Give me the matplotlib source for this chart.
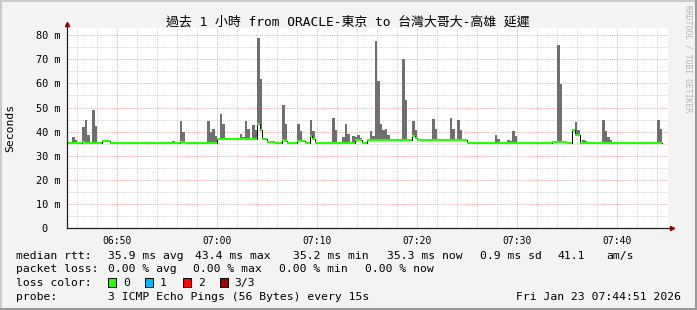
import matplotlib
matplotlib.use('Agg')
import numpy as np
import matplotlib.pyplot as plt
from matplotlib.lines import Line2D
from matplotlib.patches import Rectangle

# time axis: 15 s steps counted from 06:45
n_steps = 238
step_min = 0.25

# median rtt (ms): (first step, value) until the next change
median_changes = [(0, 35.4), (6, 35.8), (7, 35.4), (14, 36.1), (17, 35.4),
                  (45, 35.8), (47, 35.4), (60, 36.8), (76, 43.2), (77, 40.7),
                  (78, 36.8), (80, 35.8), (83, 35.4), (86, 36.5), (87, 36.0),
                  (88, 35.4), (92, 36.3), (95, 35.4), (97, 38.0), (98, 36.8),
                  (99, 35.4), (115, 36.4), (118, 35.4), (120, 36.7), (138, 38.2),
                  (139, 37.2), (140, 36.7), (160, 35.4), (194, 35.8), (200, 35.4),
                  (202, 40.7), (203, 38.6), (205, 35.4)]

# smoke: top of the ping spread (ms) per step
smoke_steps = [2, 3, 6, 7, 8, 10, 11, 42, 45, 46, 56, 57, 58, 59, 61, 62,
               69, 70, 71, 72, 74, 75, 76, 77, 86, 87, 92, 93, 97, 98, 106, 107,
               110, 111, 112, 114, 115, 116, 117, 121, 122, 123, 124, 125, 126, 127,
               128, 134, 135, 138, 139, 146, 147, 153, 154, 156, 157, 171, 172, 176,
               177, 178, 179, 196, 197, 202, 203, 204, 206, 207, 214, 215, 216, 217,
               236, 237]
smoke_top = [37.8, 36.5, 41.9, 44.8, 38.6, 49.0, 42.3, 36.1, 44.4, 39.8, 44.4, 39.8,
             41.1, 38.2, 47.3, 43.2, 39.0, 37.8, 44.4, 41.1, 42.7, 40.7, 78.8, 61.8,
             51.0, 43.2, 43.2, 40.2, 44.8, 40.2, 45.6, 40.7, 37.8, 43.2, 39.0, 38.2,
             37.8, 38.6, 37.3, 40.2, 38.2, 77.6, 61.0, 43.2, 40.7, 41.1, 38.6, 70.1,
             53.1, 44.4, 40.7, 45.2, 41.1, 45.6, 41.1, 44.8, 40.7, 38.6, 36.9, 36.5,
             36.1, 40.2, 38.2, 75.9, 59.8, 41.1, 44.0, 40.7, 36.5, 36.1, 44.8, 40.2,
             37.8, 36.5, 44.8, 41.1]

x_ticks = [5, 15, 25, 35, 45, 55]
x_labels = ['06:50', '07:00', '07:10', '07:20', '07:30', '07:40']
y_ticks = [0, 10, 20, 30, 40, 50, 60, 70, 80]
y_labels = ['0  ', '10 m', '20 m', '30 m', '40 m', '50 m', '60 m', '70 m', '80 m']

title = '過去 1 小時 from ORACLE-東京 to 台灣大哥大-高雄 延遲'

W, H = 697, 310
MONO = 'DejaVu Sans Mono'
CJK = [MONO, 'Noto Sans CJK TC']


def fx(px):
    return px / W


def fy(py):
    return 1 - py / H


# build step series
med = np.empty(n_steps)
for i, (k, v) in enumerate(median_changes):
    end = median_changes[i + 1][0] if i + 1 < len(median_changes) else n_steps
    med[k:end] = v
t = np.arange(n_steps) * step_min
sk = np.array(smoke_steps)
st = np.array(smoke_top)

fig = plt.figure(figsize=(W / 100, H / 100), dpi=100, facecolor='#f3f3f3')
ax = fig.add_axes([fx(67), fy(228), fx(668) - fx(67), fy(28) - fy(228)])
ax.set_facecolor('white')

# smoke bars
ax.bar(sk * step_min, st - med[sk], bottom=med[sk], width=step_min, align='edge',
       color='#6f6f6f', lw=0, zorder=2)

# median line: black connectors, green level segments
ax.step(np.append(t, t[-1] + step_min), np.append(med, med[-1]), where='post',
        color='black', lw=0.7, zorder=3)
ax.hlines(med, t, t + step_min, color='#26ff00', lw=1.5, zorder=4)

ax.set_xlim(0, 60.05)
ax.set_ylim(0, 83)

ax.set_xticks(x_ticks)
ax.set_xticklabels(x_labels, family=MONO, fontsize=7)
ax.set_xticks(np.arange(1, 60, 2), minor=True)
ax.set_yticks(y_ticks)
ax.set_yticklabels(y_labels, family=MONO, fontsize=7.4)
ax.set_yticks(np.arange(5, 83, 10), minor=True)
ax.tick_params(axis='both', which='both', length=0)
ax.tick_params(axis='x', pad=5.5)
ax.tick_params(axis='y', pad=5)

ax.set_axisbelow(True)
ax.grid(which='minor', color='#cfcfcf', ls=(0, (1, 1)), lw=0.7)
ax.grid(which='major', color='#f2a8a8', ls=(0, (1, 1)), lw=0.7)
for s in ax.spines.values():
    s.set_visible(False)

# axis lines with arrows
ax.plot([0, 1.006], [0, 0], transform=ax.transAxes, color='#202020', lw=0.9,
        clip_on=False, zorder=5)
ax.plot([0, 0], [0, 1.015], transform=ax.transAxes, color='#202020', lw=0.9,
        clip_on=False, zorder=5)
ax.plot([1.006], [0], transform=ax.transAxes, marker='>', ms=3, color='#8b0000',
        clip_on=False, zorder=6)
ax.plot([0], [1.02], transform=ax.transAxes, marker='^', ms=3, color='#8b0000',
        clip_on=False, zorder=6)

ax.set_ylabel('Seconds', family=MONO, fontsize=8.2)
ax.yaxis.set_label_coords((15.5 - 67) / (668 - 67), 0.5)

fig.text(fx(348), fy(22), title, family=CJK, fontsize=9.3, ha='center', va='center')
fig.text(fx(688), fy(5), 'RRDTOOL / TOBI OETIKER', family=MONO, fontsize=5.8,
         color='#b4b4b4', rotation=270, ha='center', va='top')

# legend rows
leg = dict(family=MONO, fontsize=8.2, va='baseline')
rows = [259, 272.5, 286, 299.5]
fig.text(fx(16), fy(rows[0]), 'median rtt:', **leg)
for xp, s in [(107.6, '35.9 ms avg'), (194.7, '43.4 ms max'), (293, '35.2 ms min'),
              (386.7, '35.3 ms now'), (480, '0.9 ms sd'), (557.8, '41.1'),
              (606.7, 'am/s')]:
    fig.text(fx(xp), fy(rows[0]), s, **leg)
fig.text(fx(16), fy(rows[1]), 'packet loss:', **leg)
for xp, s in [(107.6, '0.00 % avg'), (193, '0.00 % max'), (279, '0.00 % min'),
              (365, '0.00 % now')]:
    fig.text(fx(xp), fy(rows[1]), s, **leg)
fig.text(fx(16), fy(rows[2]), 'loss color:', **leg)
for xp, c, s in [(108.4, '#26ff00', '0'), (145, '#00b8ff', '1'),
                 (182.7, '#ff0000', '2'), (219.6, '#a00000', '3/3')]:
    fig.add_artist(Rectangle((fx(xp), fy(287)), fx(8), 9 / H, transform=fig.transFigure,
                             facecolor=c, edgecolor='black', lw=0.7))
    fig.text(fx(xp + 15), fy(rows[2]), s, **leg)
fig.text(fx(16), fy(rows[3]), 'probe:', **leg)
fig.text(fx(107.6), fy(rows[3]), '3 ICMP Echo Pings (56 Bytes) every 15s', **leg)
fig.text(fx(681), fy(rows[3]), 'Fri Jan 23 07:44:51 2026', ha='right', **leg)

# 3d frame
for xs, ys, c in [([0, W], [1, 1], '#cbcbcb'), ([1, 1], [0, H], '#cbcbcb'),
                  ([0, W], [H - 1, H - 1], '#999999'), ([W - 1, W - 1], [0, H], '#999999')]:
    fig.add_artist(Line2D([fx(v) for v in xs], [fy(v) for v in ys],
                          transform=fig.transFigure, color=c, lw=1.5))

fig.savefig('out.png', dpi=100, facecolor=fig.get_facecolor())
